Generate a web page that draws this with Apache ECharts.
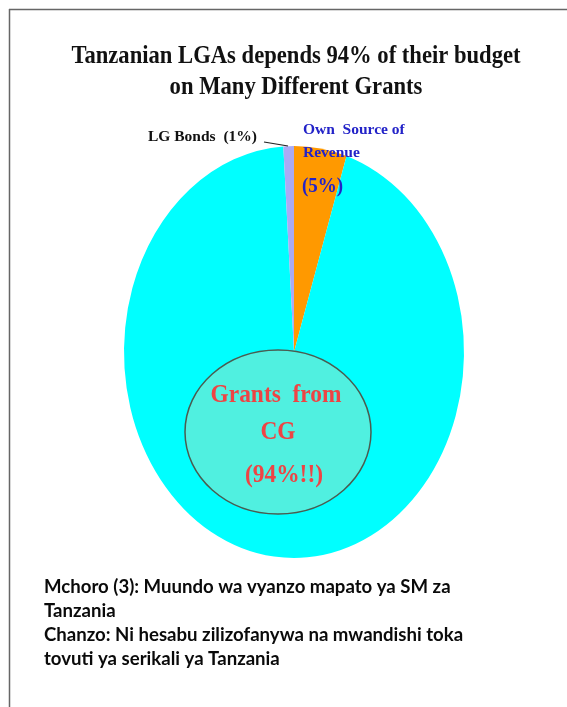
<!DOCTYPE html>
<html>
<head>
<meta charset="utf-8">
<script src="https://cdn.jsdelivr.net/npm/echarts@6/dist/echarts.min.js"></script>
<style>
  html, body { margin: 0; padding: 0; background: #fff; }
  #main { width: 567px; height: 707px; }
</style>
</head>
<body>
<div id="main"></div>
<script>
// slices, clockwise from 12 o'clock
var categories = ['Own Source of Revenue', 'Grants from CG', 'LG Bonds'];
var shares = [5, 94, 1];
var sliceColors = ['#ff9900', '#00ffff', '#aaaaf5'];

var titleLines = ['Tanzanian LGAs depends 94% of their budget', 'on Many Different Grants'];
var captionLines = [
    'Mchoro (3): Muundo wa vyanzo mapato ya SM za',
    'Tanzania',
    'Chanzo: Ni hesabu zilizofanywa na mwandishi toka',
    'tovuti ya serikali ya Tanzania'
];

var chart = echarts.init(document.getElementById('main'));

// pie geometry (ellipse, stretched vertically like the original)
var cx = 294, cy = 352, rx = 170, ry = 206;

var pieData = [];
var acc = 0;
for (var i = 0; i < shares.length; i++) {
    pieData.push({
        name: categories[i],
        value: [acc, acc + shares[i]]
    });
    acc += shares[i];
}
var total = acc;

function renderSlice(params, api) {
    var a0 = -Math.PI / 2 + api.value(0) / total * Math.PI * 2;
    var a1 = -Math.PI / 2 + api.value(1) / total * Math.PI * 2;
    return {
        type: 'sector',
        x: cx,
        y: cy,
        scaleY: ry / rx,
        shape: { cx: 0, cy: 0, r0: 0, r: rx, startAngle: a0, endAngle: a1, clockwise: true },
        style: { fill: sliceColors[params.dataIndex], stroke: null }
    };
}

var serif = '"Liberation Serif", "DejaVu Serif", serif';
var graphics = [
    // frame (left + top edge only visible)
    { type: 'line', shape: { x1: 9.5, y1: 9, x2: 9.5, y2: 707 }, style: { stroke: '#666', lineWidth: 1.5 } },
    { type: 'line', shape: { x1: 9, y1: 9.5, x2: 567, y2: 9.5 }, style: { stroke: '#666', lineWidth: 1.5 } }
];

titleLines.forEach(function (t, k) {
    graphics.push({
        type: 'text', x: 296, y: 56 + k * 31, scaleX: 0.87, z: 10,
        style: { text: t, fill: '#111', font: 'bold 26px ' + serif, textAlign: 'center', textVerticalAlign: 'middle' }
    });
});

// slice labels
graphics.push(
    { type: 'text', x: 148, y: 137, z: 10,
      style: { text: 'LG Bonds  (1%)', fill: '#111', font: 'bold 15.5px ' + serif, textAlign: 'left', textVerticalAlign: 'middle' } },
    { type: 'line', z: 10, shape: { x1: 264, y1: 142, x2: 288, y2: 146 }, style: { stroke: '#222', lineWidth: 1.2 } },
    { type: 'text', x: 303, y: 130, z: 10,
      style: { text: 'Own  Source of', fill: '#2323c8', font: 'bold 15.5px ' + serif, textAlign: 'left', textVerticalAlign: 'middle' } },
    { type: 'text', x: 303, y: 153, z: 10,
      style: { text: 'Revenue', fill: '#2323c8', font: 'bold 15.5px ' + serif, textAlign: 'left', textVerticalAlign: 'middle' } },
    { type: 'text', x: 302, y: 187, scaleX: 0.95, z: 10,
      style: { text: '(5%)', fill: '#2323c8', font: 'bold 20px ' + serif, textAlign: 'left', textVerticalAlign: 'middle' } }
);

// highlighted bubble on the grants slice
graphics.push(
    { type: 'ellipse', z: 5, shape: { cx: 278, cy: 432, rx: 93, ry: 82 },
      style: { fill: '#50f0e0', stroke: '#4a5c50', lineWidth: 1.5 } },
    { type: 'text', x: 276, y: 395, scaleX: 0.9, z: 10,
      style: { text: 'Grants  from', fill: '#ee4444', font: 'bold 26px ' + serif, textAlign: 'center', textVerticalAlign: 'middle' } },
    { type: 'text', x: 278, y: 432, scaleX: 0.9, z: 10,
      style: { text: 'CG', fill: '#ee4444', font: 'bold 26px ' + serif, textAlign: 'center', textVerticalAlign: 'middle' } },
    { type: 'text', x: 284, y: 475, scaleX: 0.9, z: 10,
      style: { text: '(94%!!)', fill: '#ee4444', font: 'bold 26px ' + serif, textAlign: 'center', textVerticalAlign: 'middle' } }
);

captionLines.forEach(function (t, k) {
    graphics.push({
        type: 'text', x: 44, y: 587 + k * 24, z: 10,
        style: { text: t, fill: '#0a0a0a', font: 'bold 18.6px Lato, "Open Sans", sans-serif', textAlign: 'left', textVerticalAlign: 'middle' }
    });
});

var option = {
    backgroundColor: '#ffffff',
    animation: false,
    series: [{
        type: 'custom',
        coordinateSystem: 'none',
        renderItem: renderSlice,
        data: pieData,
        silent: true
    }],
    graphic: graphics
};

chart.setOption(option);
</script>
</body>
</html>
